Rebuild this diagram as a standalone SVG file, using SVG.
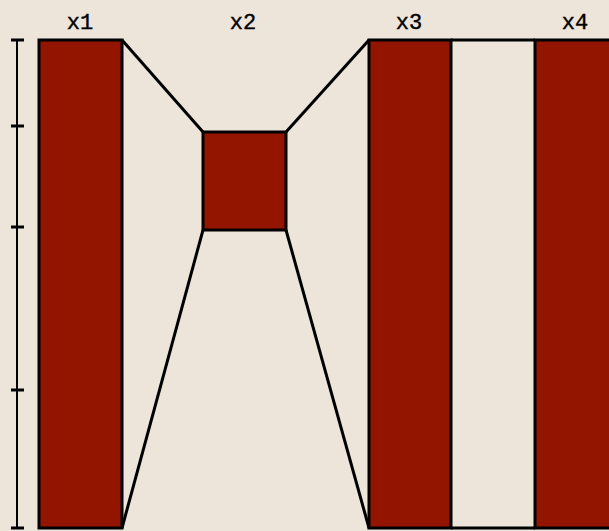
<svg xmlns="http://www.w3.org/2000/svg" width="609" height="531" viewBox="0 0 609 531">
<style>
.bar{fill:#931500;stroke:#000;stroke-width:3}
.ln{stroke:#000;stroke-width:3;fill:none}
.ax{stroke:#000;stroke-width:2;fill:none}
.tk{stroke:#000;stroke-width:3}
text{font-family:"Liberation Mono","DejaVu Sans Mono",monospace;font-size:22px;fill:#000;stroke:#000;stroke-width:0.4;text-anchor:middle}
</style>
<rect width="609" height="531" fill="#eee5da"/>
<g id="axis">
<line class="ax" x1="17" y1="40" x2="17" y2="528"/>
<line class="tk" x1="11" y1="40" x2="24" y2="40"/>
<line class="tk" x1="11" y1="126" x2="24" y2="126"/>
<line class="tk" x1="11" y1="227" x2="24" y2="227"/>
<line class="tk" x1="11" y1="390" x2="24" y2="390"/>
<line class="tk" x1="11" y1="528" x2="24" y2="528"/>
</g>
<g id="connectors">
<line class="ln" x1="122" y1="40" x2="203" y2="132"/>
<line class="ln" x1="286" y1="132" x2="369" y2="40"/>
<line class="ln" x1="122" y1="528" x2="203" y2="230"/>
<line class="ln" x1="286" y1="230" x2="369" y2="528"/>
<line class="ln" x1="451" y1="40" x2="535" y2="40"/>
<line class="ln" x1="451" y1="528" x2="535" y2="528"/>
</g>
<g id="x1">
<rect class="bar" x="39" y="40" width="83" height="488"/>
<text x="80" y="29">x1</text>
</g>
<g id="x2">
<rect class="bar" x="203" y="132" width="83" height="98"/>
<text x="243" y="29">x2</text>
</g>
<g id="x3">
<rect class="bar" x="369" y="40" width="82" height="488"/>
<text x="409" y="29">x3</text>
</g>
<g id="x4">
<rect class="bar" x="535" y="40" width="82" height="488"/>
<text x="575" y="29">x4</text>
</g>
</svg>
